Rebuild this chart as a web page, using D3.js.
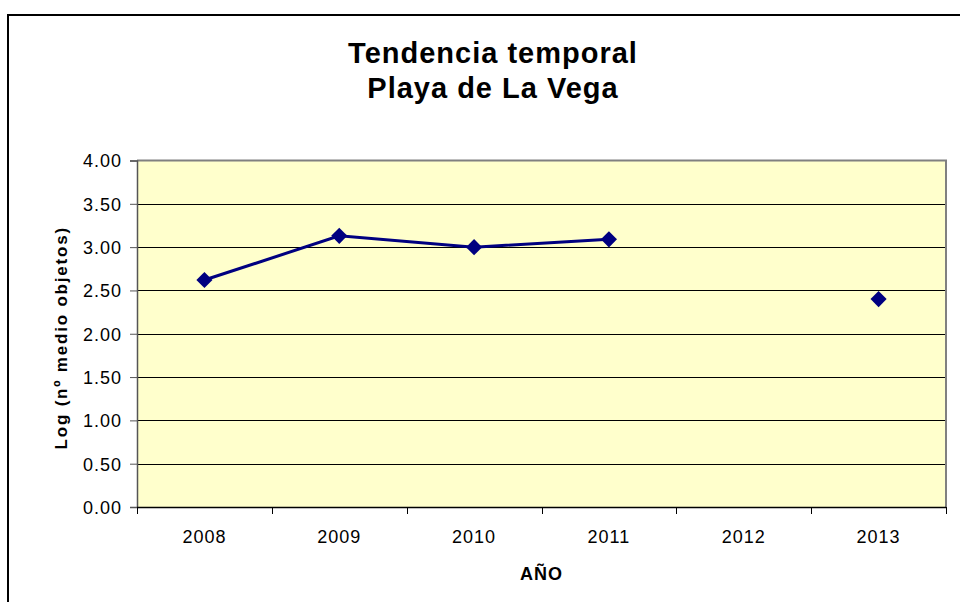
<!DOCTYPE html>
<html>
<head>
<meta charset="utf-8">
<script src="https://cdn.jsdelivr.net/npm/d3@7"></script>
<style>
  html, body { margin: 0; padding: 0; background: #fff; }
  svg { display: block; font-family: "Liberation Sans", Arial, sans-serif; }
</style>
</head>
<body>
<svg id="chart" width="960" height="602"></svg>
<script>
// Series data: log of the mean number of objects per year (2012 has no survey)
const years = ["2008", "2009", "2010", "2011", "2012", "2013"];
const logValues = [2.62, 3.13, 3.00, 3.09, null, 2.40];
const yTicks = [0, 0.5, 1, 1.5, 2, 2.5, 3, 3.5, 4];
const titleLines = ["Tendencia temporal", "Playa de La Vega"];
const yTitle = "Log (nº medio objetos)";
const xTitle = "AÑO";

const svg = d3.select("#chart");
const plot = { left: 137, top: 160.5, right: 946, bottom: 507 };

// Outer chart frame (extends past the window on the right and bottom)
svg.append("rect")
  .attr("x", 8).attr("y", 15)
  .attr("width", 1000).attr("height", 1000)
  .attr("fill", "none").attr("stroke", "#000").attr("stroke-width", 2);

const x = d3.scaleBand().domain(years).range([plot.left, plot.right]);
const y = d3.scaleLinear().domain([0, 4]).range([plot.bottom, plot.top]);

// Plot background
svg.append("rect")
  .attr("x", plot.left).attr("y", plot.top)
  .attr("width", plot.right - plot.left).attr("height", plot.bottom - plot.top)
  .attr("fill", "#FFFFCC");

// Horizontal gridlines
svg.append("g")
  .selectAll("line")
  .data(yTicks.filter(d => d > 0 && d < 4))
  .join("line")
  .attr("x1", plot.left).attr("x2", plot.right)
  .attr("y1", d => Math.round(y(d)) + 0.5).attr("y2", d => Math.round(y(d)) + 0.5)
  .attr("stroke", "#000").attr("stroke-width", 1);

// Plot border top and right (grey)
svg.append("path")
  .attr("d", `M${plot.left},${plot.top}H${plot.right}V${plot.bottom}`)
  .attr("fill", "none").attr("stroke", "#808080").attr("stroke-width", 2);

// Y axis
const yAxis = d3.axisLeft(y)
  .tickValues(yTicks)
  .tickFormat(d3.format(".2f"))
  .tickSize(7)
  .tickPadding(8);
const gy = svg.append("g")
  .attr("transform", `translate(${plot.left},0)`)
  .call(yAxis);
gy.select(".domain").attr("stroke", "#555").attr("stroke-width", 1.5);
gy.selectAll(".tick line").attr("stroke", "#555");
gy.selectAll(".tick text")
  .attr("font-size", 18).attr("fill", "#000")
  .attr("letter-spacing", 1)
  .attr("dy", "0.36em")
  .attr("font-family", "'Liberation Sans', Arial, sans-serif");

// X axis: ticks on category boundaries, labels centred in each band
const boundaries = years.map(d => x(d)).concat([plot.right]);
const gx = svg.append("g");
gx.append("line")
  .attr("x1", plot.left).attr("x2", plot.right)
  .attr("y1", plot.bottom + 0.5).attr("y2", plot.bottom + 0.5)
  .attr("stroke", "#000").attr("stroke-width", 1.5);
gx.selectAll("line.tk")
  .data(boundaries)
  .join("line")
  .attr("class", "tk")
  .attr("x1", d => Math.round(d) + 0.5).attr("x2", d => Math.round(d) + 0.5)
  .attr("y1", plot.bottom).attr("y2", plot.bottom + 7)
  .attr("stroke", "#000");
gx.selectAll("text")
  .data(years)
  .join("text")
  .attr("x", d => x(d) + x.bandwidth() / 2)
  .attr("y", 543)
  .attr("text-anchor", "middle")
  .attr("font-size", 18)
  .attr("letter-spacing", 1)
  .text(d => d);

// Data line (breaks at missing years)
const pts = years.map((d, i) => ({ year: d, v: logValues[i] }));
const line = d3.line()
  .defined(d => d.v !== null)
  .x(d => x(d.year) + x.bandwidth() / 2)
  .y(d => y(d.v));
svg.append("path")
  .datum(pts)
  .attr("d", line)
  .attr("fill", "none")
  .attr("stroke", "#000080")
  .attr("stroke-width", 3);

// Diamond markers
const diamond = d3.symbol().type(d3.symbolSquare).size(130);
svg.append("g")
  .selectAll("path")
  .data(pts.filter(d => d.v !== null))
  .join("path")
  .attr("d", diamond)
  .attr("transform", d => `translate(${x(d.year) + x.bandwidth() / 2},${y(d.v)}) rotate(45)`)
  .attr("fill", "#000080");

// Titles
svg.append("g")
  .selectAll("text")
  .data(titleLines)
  .join("text")
  .attr("x", 493)
  .attr("y", (d, i) => 63 + i * 35)
  .attr("text-anchor", "middle")
  .attr("font-size", 29)
  .attr("letter-spacing", 1)
  .attr("font-weight", "bold")
  .text(d => d);

svg.append("text")
  .attr("transform", `translate(66.5,${(plot.top + plot.bottom) / 2 + 4}) rotate(-90)`)
  .attr("text-anchor", "middle")
  .attr("font-size", 17)
  .attr("letter-spacing", 1.8)
  .attr("font-weight", "bold")
  .text(yTitle);

svg.append("text")
  .attr("x", (plot.left + plot.right) / 2)
  .attr("y", 580)
  .attr("text-anchor", "middle")
  .attr("font-size", 18)
  .attr("letter-spacing", 1)
  .attr("font-weight", "bold")
  .text(xTitle);
</script>
</body>
</html>
